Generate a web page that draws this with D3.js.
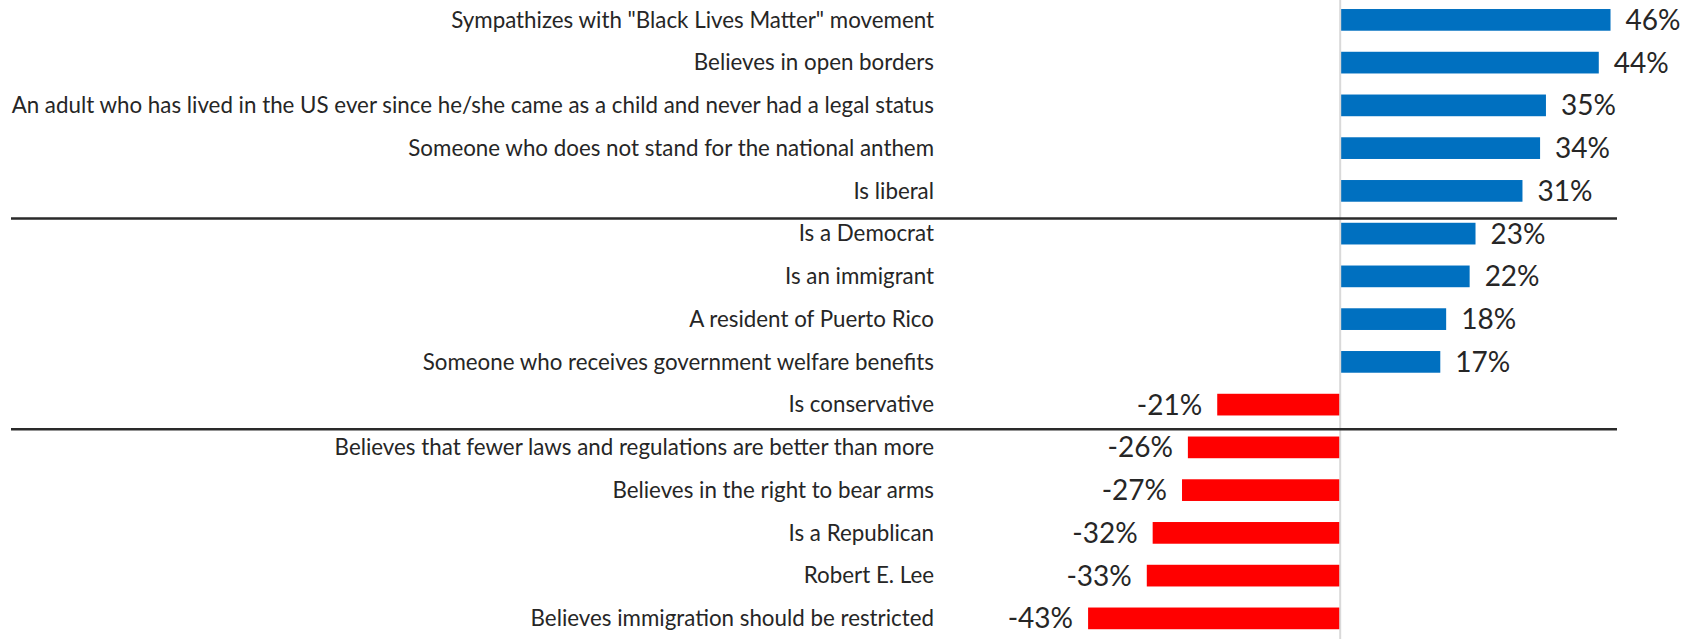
<!DOCTYPE html>
<html>
<head>
<meta charset="utf-8">
<script src="https://cdn.jsdelivr.net/npm/d3@7"></script>
<style>
  html, body { margin: 0; padding: 0; background: #ffffff; }
  svg { display: block; }
</style>
</head>
<body>
<svg id="chart" width="1698" height="639"></svg>
<script>
// Net difference by trait, positive = more likely, negative = less likely
const categories = [
  'Sympathizes with "Black Lives Matter" movement',
  'Believes in open borders',
  'An adult who has lived in the US ever since he/she came as a child and never had a legal status',
  'Someone who does not stand for the national anthem',
  'Is liberal',
  'Is a Democrat',
  'Is an immigrant',
  'A resident of Puerto Rico',
  'Someone who receives government welfare benefits',
  'Is conservative',
  'Believes that fewer laws and regulations are better than more',
  'Believes in the right to bear arms',
  'Is a Republican',
  'Robert E. Lee',
  'Believes immigration should be restricted'
];
const values = [46, 44, 35, 34, 31, 23, 22, 18, 17, -21, -26, -27, -32, -33, -43];

// Group dividers are drawn above these rows
const dividerBefore = ['Is a Democrat', 'Believes that fewer laws and regulations are better than more'];

const W = 1698, H = 639;
const svg = d3.select('#chart');

const x = d3.scaleLinear().domain([-50, 50]).range([1047, 1634]);
const y = d3.scaleBand()
  .domain(categories)
  .range([-1.5, 639.75])
  .paddingInner(0.4924)
  .paddingOuter(0.2462);

const FONT = 'Lato, "Open Sans", "Liberation Sans", sans-serif';
const textColor = '#262626';

// size fonts by measuring a probe text
function fitSize(str, targetWidth) {
  const t = svg.append('text').attr('font-family', FONT).attr('font-size', 100).text(str);
  const w = t.node().getComputedTextLength();
  t.remove();
  return 100 * targetWidth / w;
}
const longest = categories.reduce((a, b) => (a.length > b.length ? a : b));
const catSize = fitSize(longest, 923);
const valSize = fitSize('46%', 55);

const labelRight = 934;

// category labels
svg.append('g')
  .selectAll('text')
  .data(categories)
  .join('text')
  .attr('x', labelRight)
  .attr('y', d => y(d) + y.bandwidth() / 2)
  .attr('dy', '0.35em')
  .attr('text-anchor', 'end')
  .attr('font-family', FONT)
  .attr('font-size', catSize)
  .attr('fill', textColor)
  .text(d => d);

const rows = categories.map((c, i) => ({ cat: c, v: values[i] }));

// bars
svg.append('g')
  .selectAll('rect')
  .data(rows)
  .join('rect')
  .attr('x', d => Math.min(x(0), x(d.v)))
  .attr('y', d => y(d.cat))
  .attr('width', d => Math.abs(x(d.v) - x(0)))
  .attr('height', y.bandwidth())
  .attr('fill', d => (d.v >= 0 ? '#0070C0' : '#FF0000'));

// zero line
svg.append('line')
  .attr('x1', x(0) - 0.3).attr('x2', x(0) - 0.3)
  .attr('y1', 0).attr('y2', H)
  .attr('stroke', '#D9D9D9')
  .attr('stroke-width', 2);

// value labels
svg.append('g')
  .selectAll('text')
  .data(rows)
  .join('text')
  .attr('x', d => (d.v >= 0 ? x(d.v) + 15 : x(d.v) - 15))
  .attr('y', d => y(d.cat) + y.bandwidth() / 2)
  .attr('dy', '0.36em')
  .attr('text-anchor', d => (d.v >= 0 ? 'start' : 'end'))
  .attr('font-family', FONT)
  .attr('font-size', valSize)
  .attr('fill', textColor)
  .text(d => d.v + '%');

// group dividers
const dividerOffset = [4.3, 7.3];
svg.append('g')
  .selectAll('line')
  .data(dividerBefore)
  .join('line')
  .attr('x1', 11)
  .attr('x2', 1617)
  .attr('y1', (d, i) => y(d) - dividerOffset[i])
  .attr('y2', (d, i) => y(d) - dividerOffset[i])
  .attr('stroke', '#2a2a2a')
  .attr('stroke-width', 2.6);
</script>
</body>
</html>
